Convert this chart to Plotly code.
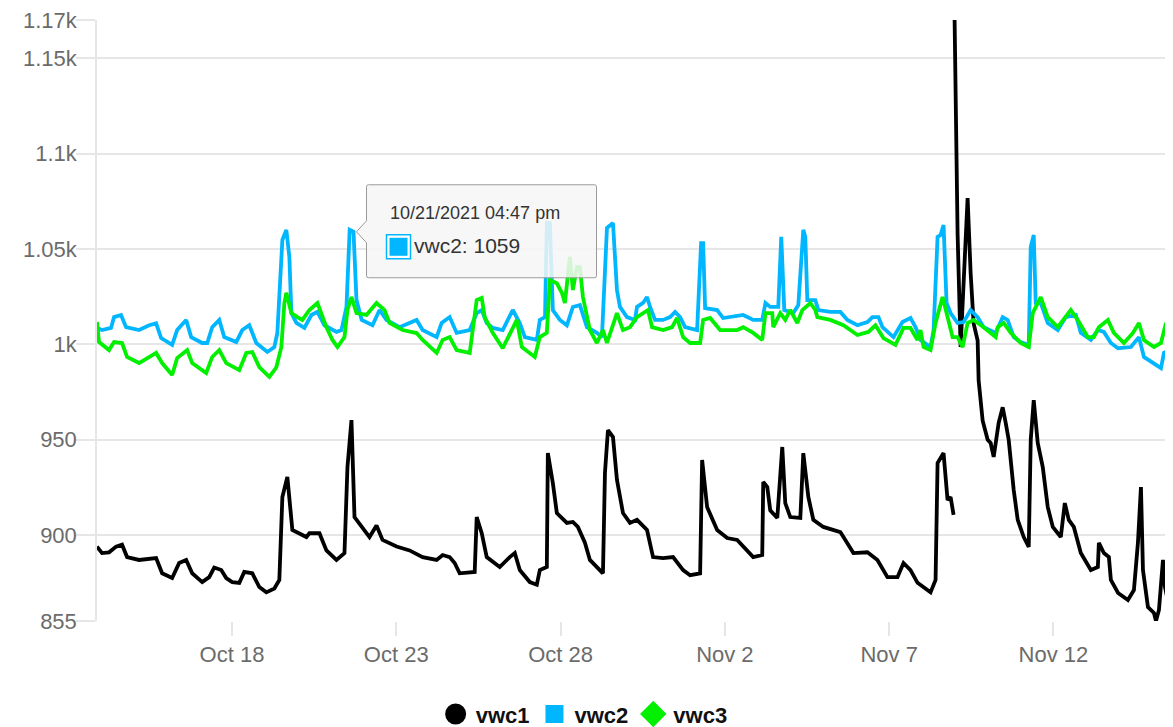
import pandas as pd
import plotly.graph_objects as go

# Time origin; series times are given in days since this moment
START = pd.Timestamp("2021-10-13 00:00")

# (days since Oct 13 2021, value)
vwc1 = [(0.893,894),(1.046,890.6),(1.259,891),(1.473,894),(1.655,895),(1.808,888.5),(2.174,887),(2.692,888),
        (2.875,880),(3.180,877.5),(3.393,885.4),(3.607,887),(3.790,880),(4.095,875.4),(4.308,878),(4.460,883),
        (4.674,881.7),(4.826,877.5),(5.009,875.4),(5.223,875),(5.375,880.7),(5.619,880),(5.832,872.8),(6.046,870),
        (6.290,872),(6.442,876.5),(6.534,920),(6.686,930.5),(6.838,902.7),(7.265,899),(7.357,901),(7.662,901),
        (7.875,892),(8.180,887),(8.424,890.6),(8.515,935.7),(8.637,960.3),(8.729,909.5),(9.186,899),(9.399,905),
        (9.582,897.5),(10.009,894),(10.405,892),(10.802,888.5),(11.229,887),(11.412,889.6),(11.625,888.5),
        (11.777,885.4),(11.930,880),(12.387,880.7),(12.448,909.5),(12.601,901),(12.753,888.5),(13.149,883.3),
        (13.454,888.5),(13.607,890.6),(13.759,881.7),(14.064,875.4),(14.277,874),(14.369,881.7),(14.582,883.3),
        (14.613,943),(14.765,927.3),(14.887,911.6),(15.192,906.4),(15.375,906.9),(15.527,904.3),(15.741,896),
        (15.893,887),(16.198,881.7),(16.290,880),(16.351,932.6),(16.442,955),(16.595,951.4),(16.716,929),
        (16.899,911.6),(17.113,906.4),(17.326,908),(17.631,902.7),(17.814,888.5),(18.119,888),(18.424,888.5),
        (18.729,881.7),(18.942,879),(19.247,880),(19.308,939.4),(19.460,914.7),(19.765,902.7),(20.070,898.5),
        (20.375,897.5),(20.558,894),(20.863,888.5),(21.137,889.6),(21.168,927.9),(21.290,925.2),(21.381,913),
        (21.595,909),(21.747,946.2),(21.838,916.8),(21.991,909.5),(22.296,909),(22.387,943),(22.540,920),
        (22.692,908),(22.997,904.3),(23.515,901.6),(23.912,890.6),(24.338,891),(24.643,887),(24.948,878),
        (25.253,878),(25.436,885.4),(25.649,881.7),(25.863,875),(26.259,870),(26.412,876.5),(26.473,937.8),
        (26.655,943),(26.777,918.4),(26.869,920),(26.960,910.6),(26.975,None),(26.991,1170),(27.082,1058),
        (27.174,998.6),(27.387,1076.7),(27.479,1037.4),(27.570,1011),(27.692,1002),(27.723,981),(27.845,960),
        (27.997,950),(28.088,948.3),(28.180,941),(28.332,958.8),(28.454,967),(28.546,958.8),(28.637,950),
        (28.790,923.7),(28.912,908),(29.095,899),(29.247,893.8),(29.308,950),(29.399,970.8),(29.521,948.3),
        (29.674,935.7),(29.826,914.7),(29.979,904.3),(30.223,899),(30.345,916.8),(30.466,908),(30.619,904.3),
        (30.832,890.6),(31.137,881.7),(31.351,883.3),(31.381,896),(31.534,890.6),(31.686,888.5),(31.747,876.5),
        (31.966,869.7),(32.265,866),(32.448,871.2),(32.570,896),(32.662,925.2),(32.723,881.7),(32.875,862.3),
        (33.058,859.2),(33.119,855),(33.210,860.8),(33.332,887),(33.393,872.8),(33.485,866),(33.546,860)]

vwc2 = [(0.893,1008.6),(1.046,1007.5),(1.320,1008.6),(1.412,1014.3),(1.625,1015.4),(1.777,1009),(2.174,1007.5),
        (2.479,1010),(2.692,1011),(2.845,1003.3),(3.180,999.7),(3.332,1007.5),(3.607,1012.8),(3.759,1003.8),
        (4.095,1000.7),(4.247,1000.7),(4.399,1009),(4.613,1012.8),(4.765,1003.8),(5.131,1001.2),(5.314,1007.5),
        (5.527,1010),(5.741,1000.7),(6.076,996),(6.290,998.6),(6.381,1006),(6.534,1054.7),(6.655,1060),
        (6.747,1045.8),(6.808,1016.4),(6.960,1011.2),(7.204,1008.6),(7.418,1015.4),(7.601,1017),(7.814,1010),
        (8.180,1006.5),(8.332,1007.5),(8.485,1019.6),(8.582,1060),(8.699,1059),(8.790,1023.2),(8.948,1012.8),
        (9.277,1010),(9.491,1018),(9.704,1012.8),(10.101,1009),(10.619,1012.8),(10.802,1007.5),(11.229,1003.8),
        (11.381,1011.2),(11.625,1014.3),(11.838,1006),(12.235,1007.5),(12.448,1016.4),(12.601,1018),
        (12.753,1011.2),(12.936,1008.6),(13.241,1007.5),(13.546,1018),(13.759,1011.2),(13.912,1003.8),
        (14.277,1002.3),(14.369,1012.8),(14.527,1014.3),(14.582,1063.6),(14.674,1063.6),(14.765,1018),
        (14.979,1012.8),(15.192,1010),(15.375,1019.6),(15.588,1020.6),(15.802,1009),(16.107,1006),(16.259,1003.8),
        (16.412,1061),(16.595,1063.6),(16.716,1028.5),(16.808,1019.6),(17.021,1014.3),(17.265,1012.8),
        (17.326,1019.6),(17.509,1021.7),(17.631,1024.8),(17.723,1019.6),(17.875,1012.8),(18.119,1012.8),
        (18.332,1014.3),(18.485,1017),(18.637,1014.3),(18.790,1009),(19.155,1007.5),(19.277,1053.1),
        (19.338,1053.1),(19.399,1019),(19.765,1018),(19.948,1013.8),(20.558,1015.4),(20.863,1012.8),
        (21.137,1012.8),(21.235,1021.7),(21.381,1019.6),(21.625,1019.6),(21.716,1056.3),(21.808,1018),
        (22.082,1016.4),(22.235,1020.6),(22.387,1060),(22.448,1056.3),(22.509,1023.2),(22.753,1023.2),
        (22.845,1018),(23.210,1017),(23.515,1017),(23.729,1012.8),(24.034,1010),(24.338,1011.7),(24.491,1014.3),
        (24.674,1014.3),(24.796,1009),(25.131,1003.8),(25.405,1011.7),(25.649,1013.8),(25.802,1009),
        (25.954,1002.3),(26.259,998.6),(26.351,1007.5),(26.473,1056.3),(26.564,1057.3),(26.655,1062.5),
        (26.747,1021.7),(26.869,1016.4),(27.082,1011.2),(27.265,1011.7),(27.479,1018),(27.692,1014.3),
        (27.875,1009),(28.241,1006),(28.454,1014.3),(28.607,1012.8),(28.790,1003.8),(29.003,1001.2),
        (29.247,999.7),(29.308,1051),(29.399,1057.3),(29.460,1021.7),(29.613,1021.7),(29.826,1011.2),
        (30.131,1007.5),(30.375,1014.3),(30.680,1015.4),(30.832,1006),(31.137,1002.3),(31.351,1007.5),
        (31.534,1006.5),(31.747,1000.7),(31.966,998),(32.357,998.6),(32.601,1003.8),(32.753,993.4),
        (33.058,990.2),(33.271,987.6),(33.363,995.5),(33.546,997)]

vwc3 = [(0.893,1011.7),(0.954,1001.2),(1.259,997),(1.412,1001.2),(1.655,1000.7),(1.808,993.4),(2.174,990.2),
        (2.479,993.4),(2.692,995.5),(2.875,990.2),(3.180,983.9),(3.332,992.8),(3.637,997),(3.790,990.2),
        (4.216,985),(4.399,993.4),(4.613,997),(4.826,990.2),(5.223,986.5),(5.436,995.5),(5.619,996),
        (5.832,988.1),(6.137,982.9),(6.290,986.5),(6.351,988),(6.503,998.6),(6.595,1021.7),(6.655,1027),
        (6.808,1016.4),(6.991,1014.3),(7.143,1012.8),(7.357,1018),(7.601,1021.7),(7.875,1009),(8.058,1002.3),
        (8.210,998.6),(8.424,1003.8),(8.515,1018),(8.637,1024.8),(8.790,1016.4),(9.095,1015.4),(9.399,1021.7),
        (9.643,1018),(9.796,1011.2),(10.192,1007.5),(10.619,1005.9),(10.802,1002.3),(11.229,995.5),
        (11.412,1002.3),(11.625,1003.8),(11.838,997),(12.235,995.5),(12.448,1023.2),(12.601,1024.3),
        (12.692,1014.3),(12.936,1006),(13.241,998),(13.515,1007.5),(13.668,1012.8),(13.820,998.6),
        (14.216,993.4),(14.369,1003.8),(14.582,1006),(14.674,1033.7),(14.887,1032),(15.040,1027),
        (15.131,1021.7),(15.284,1045.8),(15.375,1028.5),(15.497,1040.5),(15.588,1040.5),(15.680,1024.8),
        (15.893,1007.5),(16.107,1000.7),(16.290,1007.5),(16.412,1000.7),(16.595,1011.2),(16.716,1016.4),
        (16.899,1007.5),(17.113,1009),(17.326,1014.3),(17.509,1016.4),(17.662,1018),(17.784,1009),
        (18.119,1007.5),(18.393,1009),(18.546,1013.8),(18.729,1003.8),(18.942,1000.7),(19.247,1000.7),
        (19.338,1012.8),(19.552,1013.8),(19.857,1007.5),(20.375,1007.5),(20.558,1009),(20.863,1006),
        (21.137,1002.3),(21.235,1016.4),(21.442,1016.4),(21.473,1009),(21.686,1016.4),(21.838,1012.8),
        (21.991,1018),(22.204,1011.2),(22.357,1018),(22.601,1021.7),(22.753,1018),(22.814,1014.3),
        (23.210,1012.8),(23.607,1010),(24.034,1004.9),(24.369,1006.5),(24.582,1010),(24.826,1003.3),
        (25.192,999.7),(25.436,1008.6),(25.649,1008.6),(25.863,1002.3),(25.954,1007.5),(26.046,998.6),
        (26.259,997),(26.412,1011.2),(26.625,1024.8),(26.777,1014.3),(26.930,1003.8),(27.082,1003.8),
        (27.235,998.6),(27.387,1011.2),(27.570,1012.8),(27.875,1009),(28.241,1003.8),(28.302,1009),
        (28.485,1011.2),(28.698,1006),(29.003,1000.7),(29.247,998.6),(29.369,1016.4),(29.613,1024.8),
        (29.826,1014.3),(30.131,1009),(30.314,1012.8),(30.527,1018),(30.741,1012.8),(31.046,1003.8),
        (31.229,1003.8),(31.381,1009),(31.655,1012.8),(31.838,1006),(32.143,1000.7),(32.418,1006),
        (32.601,1011.2),(32.753,1002.3),(33.058,998.6),(33.271,1000.7),(33.424,1011.2),(33.515,1009)]

SERIES_NAMES = ["vwc1", "vwc2", "vwc3"]
SERIES_COLORS = ["#000000", "#00b6ff", "#00f000"]
LEGEND_SYMBOLS = ["circle", "square", "diamond"]

Y_TICKS = [855, 900, 950, 1000, 1050, 1100, 1150, 1170]
Y_TICKTEXT = ["855", "900", "950", "1k", "1.05k", "1.1k", "1.15k", "1.17k"]

TOOLTIP_DAY = 8.699
TOOLTIP_VALUE = 1059
TOOLTIP_TITLE = "10/21/2021 04:47 pm"
TOOLTIP_TEXT = "vwc2: 1059"


def to_time(d):
    return START + pd.Timedelta(days=d)


fig = go.Figure()
for name, color, data in zip(SERIES_NAMES, SERIES_COLORS, [vwc1, vwc2, vwc3]):
    fig.add_trace(go.Scatter(
        x=[to_time(d) for d, _ in data], y=[v for _, v in data],
        mode="lines", name=name, showlegend=False, connectgaps=False,
        line=dict(color=color, width=3.8), hoverinfo="skip"))

# legend entries (markers only, like the original)
leg_line = [5, 2, 4]
for name, color, sym, lw in zip(SERIES_NAMES, SERIES_COLORS, LEGEND_SYMBOLS, leg_line):
    fig.add_trace(go.Scatter(
        x=[None], y=[None], mode="markers", name=name,
        marker=dict(symbol=sym, size=16, color=color, line=dict(color=color, width=lw))))

# tooltip box (pixel offsets anchored at the hovered point)
tx = to_time(TOOLTIP_DAY)
fig.add_shape(type="path", xref="x", yref="y", xsizemode="pixel", ysizemode="pixel",
              xanchor=tx, yanchor=TOOLTIP_VALUE,
              path="M 15,47 L 241,47 Q 243,47 243,45 L 243,-44 Q 243,-46 241,-46 L 15,-46 Q 13,-46 13,-44 "
                   "L 13,-11 L 3,0 L 13,11 L 13,45 Q 13,47 15,47 Z",
              fillcolor="rgba(246,246,246,0.86)", line=dict(color="#9a9a9a", width=1), layer="above")
fig.add_shape(type="rect", xref="x", yref="y", xsizemode="pixel", ysizemode="pixel",
              xanchor=tx, yanchor=TOOLTIP_VALUE, x0=33, x1=57, y0=-3, y1=-27,
              fillcolor="white", line=dict(color=SERIES_COLORS[1], width=1.5), layer="above")
fig.add_shape(type="rect", xref="x", yref="y", xsizemode="pixel", ysizemode="pixel",
              xanchor=tx, yanchor=TOOLTIP_VALUE, x0=36, x1=54, y0=-6, y1=-24,
              fillcolor=SERIES_COLORS[1], line=dict(width=0), layer="above")
fig.add_annotation(x=tx, y=TOOLTIP_VALUE, xref="x", yref="y", text=TOOLTIP_TITLE, showarrow=False,
                   xanchor="left", yanchor="middle", xshift=34, yshift=19,
                   font=dict(family="Liberation Sans, Arial", size=18, color="#333333"))
fig.add_annotation(x=tx, y=TOOLTIP_VALUE, xref="x", yref="y", text=TOOLTIP_TEXT, showarrow=False,
                   xanchor="left", yanchor="middle", xshift=58, yshift=-14,
                   font=dict(family="Liberation Sans, Arial", size=21, color="#333333"))

grid = "#e6e6e6"
tickfont = dict(family="Liberation Sans, Arial", size=22, color="#6b6b6b")
# the page body keeps its default 8px margin, so the figure is sized to fit inside it
fig.update_layout(
    width=1165, height=719,
    margin=dict(l=89, r=3, t=12, b=106, autoexpand=False),
    paper_bgcolor="white", plot_bgcolor="white",
    showlegend=True,
    legend=dict(orientation="h", x=0.454, xanchor="center",
                y=-0.155, yanchor="middle",
                font=dict(family="Liberation Sans, Arial", size=22, color="#111111", weight="bold"),
                itemclick=False, itemdoubleclick=False),
    xaxis=dict(type="date", range=[to_time(0.893), to_time(33.546)], automargin=False,
               tick0="2021-10-18", dtick=5 * 86400000, tickformat="%b %-d",
               showgrid=False, zeroline=False, showline=False,
               ticks="outside", ticklen=14, tickwidth=1.5, tickcolor=grid,
               ticklabeloverflow="allow", tickfont=tickfont),
    yaxis=dict(range=[855, 1170], tickvals=Y_TICKS, ticktext=Y_TICKTEXT, automargin=False,
               showgrid=True, gridcolor=grid, gridwidth=1.5, zeroline=False,
               showline=True, linecolor=grid, linewidth=1.5,
               ticks="outside", ticklen=19, tickwidth=1.5, tickcolor=grid,
               ticklabelstandoff=-5, ticklabeloverflow="allow",
               tickfont=tickfont),
    hovermode=False,
)

fig.write_html("out.html")
